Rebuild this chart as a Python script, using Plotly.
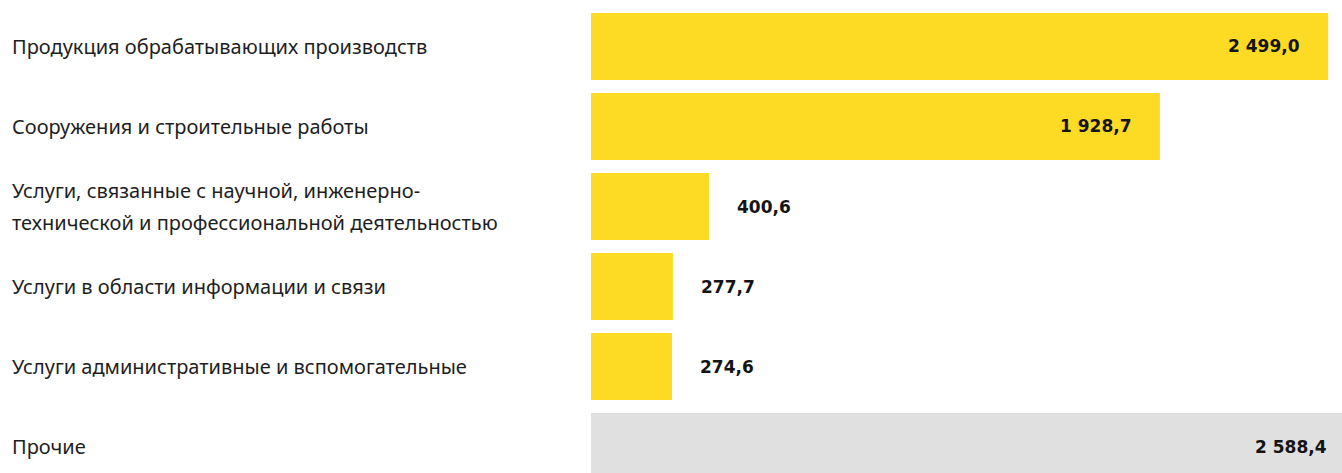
import plotly.graph_objects as go

# Categories (top to bottom) and values
categories = [
    "Продукция обрабатывающих производств",
    "Сооружения и строительные работы",
    "Услуги, связанные с научной, инженерно-<br>технической и профессиональной деятельностью",
    "Услуги в области информации и связи",
    "Услуги административные и вспомогательные",
    "Прочие",
]
values = [2499.0, 1928.7, 400.6, 277.7, 274.6, 2588.4]
value_labels = ["2 499,0", "1 928,7", "400,6", "277,7", "274,6", "2 588,4"]

YELLOW = "#FDDA24"
GREY = "#E0E0E0"
bar_colors = [YELLOW] * 5 + [GREY]

LABEL_FONT = dict(family="Noto Sans, Arial, sans-serif", size=20, color="#1e1e1e")
VALUE_FONT = dict(family="DejaVu Sans, Arial, sans-serif", size=17, color="#141414", weight="bold")

W, H = 1342, 473
LEFT = 591
X_MAX = 2546           # visible end of the value axis; the last bar runs past it
INSIDE_THRESHOLD = 1000  # values above this get their label inside the bar
PAD = 26

fig = go.Figure(
    go.Bar(
        x=values,
        y=categories,
        orientation="h",
        marker=dict(color=bar_colors, line=dict(width=0)),
        hoverinfo="skip",
    )
)

annotations = []
for cat, v, lab in zip(categories, values, value_labels):
    # category name, left aligned at the page edge; wrapped lines drawn separately
    lines = cat.split("<br>")
    n = len(lines)
    for i, line in enumerate(lines):
        annotations.append(dict(
            x=0, xref="paper", y=cat, yref="y",
            xanchor="left", yanchor="middle",
            xshift=-(LEFT - 10), yshift=(n - 1) * 16 - i * 32,
            text=line, showarrow=False, font=LABEL_FONT, align="left",
        ))
    # value label at the bar end (as a fraction of the axis, so labels of
    # bars running past the visible range are still drawn)
    inside = v > INSIDE_THRESHOLD
    annotations.append(dict(
        x=v / X_MAX, xref="paper", y=cat, yref="y",
        xanchor="right" if inside else "left", yanchor="middle",
        xshift=-PAD if inside else PAD,
        text=lab, showarrow=False, font=VALUE_FONT,
    ))

fig.update_layout(
    width=W, height=H,
    margin=dict(l=LEFT, r=0, t=0, b=0, pad=0),
    paper_bgcolor="white", plot_bgcolor="white",
    bargap=0.1625,
    showlegend=False,
    annotations=annotations,
    xaxis=dict(
        range=[0, X_MAX],
        showgrid=False, zeroline=False, showticklabels=False, showline=False,
        fixedrange=True,
    ),
    yaxis=dict(
        type="category",
        categoryorder="array", categoryarray=categories,
        range=[5.331, -0.581],
        showgrid=False, zeroline=False, showticklabels=False, showline=False,
        fixedrange=True,
    ),
)

fig.write_html("out.html", config=dict(displayModeBar=False))
